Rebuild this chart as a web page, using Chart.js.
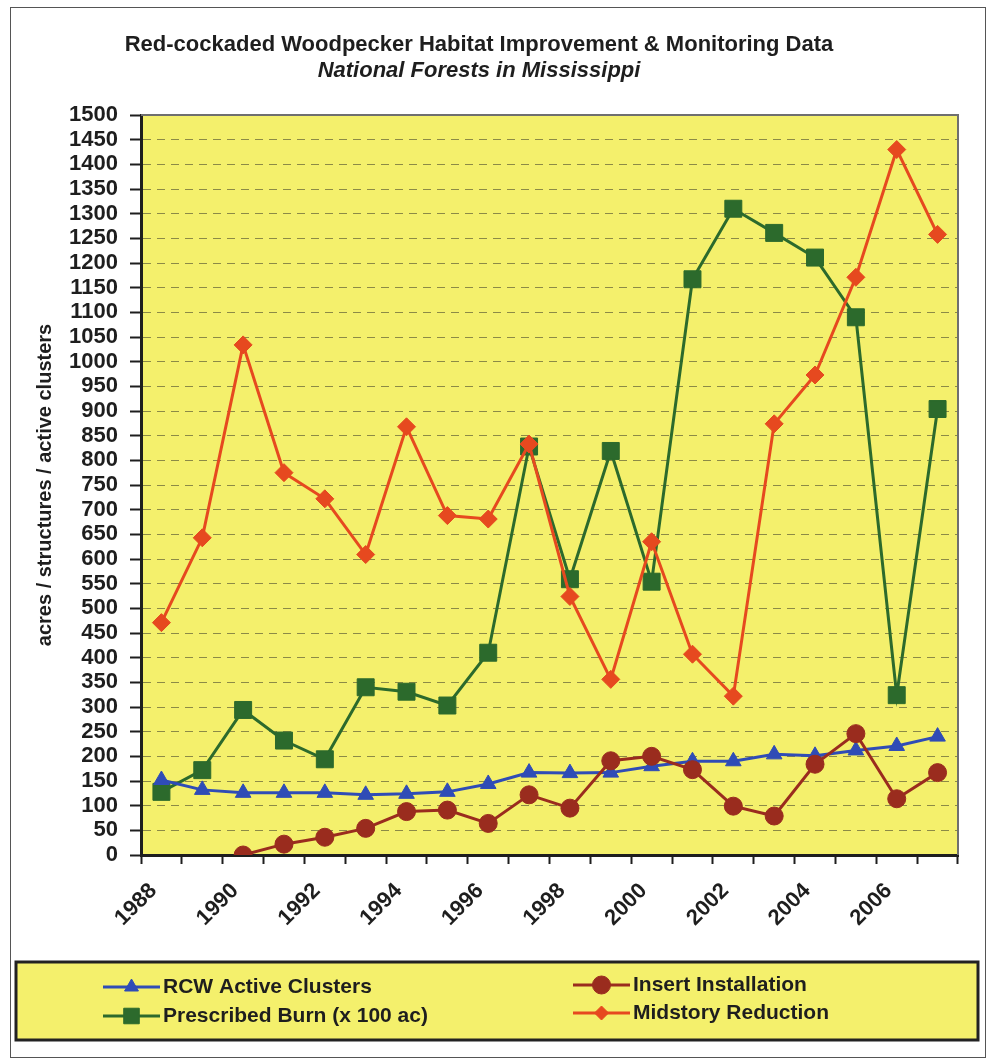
<!DOCTYPE html>
<html>
<head>
<meta charset="utf-8">
<title>Red-cockaded Woodpecker Habitat Improvement &amp; Monitoring Data</title>
<script src="https://cdn.jsdelivr.net/npm/chart.js@4.4.1/dist/chart.umd.min.js"></script>
<style>
  html, body { margin: 0; padding: 0; background: #fff; }
  #wrap { width: 988px; height: 1064px; }
</style>
</head>
<body>
<div id="wrap"><canvas id="rcw-chart" width="988" height="1064"></canvas></div>
<script>
/* ---------- Data ---------- */
const years = ['1988', '1989', '1990', '1991', '1992', '1993', '1994', '1995', '1996', '1997',
               '1998', '1999', '2000', '2001', '2002', '2003', '2004', '2005', '2006', '2007'];

const rcwActiveClusters = [152, 132, 126, 126, 126, 122, 124, 128, 144, 167,
                           166, 167, 180, 190, 190, 204, 201, 212, 221, 240];
const insertInstallation = [null, null, 0, 22, 36, 54, 88, 91, 64, 122,
                            95, 191, 200, 173, 99, 79, 184, 246, 114, 167];
const prescribedBurn = [128, 172, 294, 232, 194, 340, 331, 303, 410, 828,
                        559, 819, 554, 1167, 1310, 1261, 1211, 1090, 324, 904];
const midstoryReduction = [471, 643, 1034, 775, 722, 609, 868, 688, 681, 833,
                           524, 356, 635, 407, 322, 874, 973, 1171, 1430, 1258];

const yMin = 0;
const yMax = 1500;
const yStep = 50;

/* ---------- Style ---------- */
const FONT = "'Liberation Sans', Arial, sans-serif";
const plotYellow = '#f4f06c';
const inkColor = '#1e1e1e';

/* ---------- Plugins ---------- */
// yellow plot area + outer frame
const backgroundPlugin = {
    id: 'plotBackground',
    beforeDraw(chart) {
        const { ctx, chartArea: a } = chart;
        ctx.save();
        ctx.fillStyle = '#ffffff';
        ctx.fillRect(0, 0, chart.width, chart.height);
        ctx.strokeStyle = '#555';
        ctx.lineWidth = 1;
        ctx.strokeRect(10.5, 7.5, 975, 1050);
        ctx.fillStyle = plotYellow;
        ctx.fillRect(a.left, a.top, a.right - a.left, a.bottom - a.top);
        ctx.restore();
    },
    beforeDatasetsDraw(chart) {
        const { ctx, chartArea: a } = chart;
        ctx.save();
        ctx.strokeStyle = '#6f6f6f';
        ctx.lineWidth = 2;
        ctx.beginPath();
        ctx.moveTo(a.left, a.top);
        ctx.lineTo(a.right, a.top);
        ctx.lineTo(a.right, a.bottom);
        ctx.stroke();
        ctx.restore();
    }
};

// boxed two-column legend under the axis
const boxLegendPlugin = {
    id: 'boxLegend',
    afterDraw(chart) {
        const { ctx } = chart;
        const box = { x: 16, y: 962, w: 962, h: 78 };
        ctx.save();
        ctx.fillStyle = plotYellow;
        ctx.fillRect(box.x, box.y, box.w, box.h);
        ctx.strokeStyle = '#222';
        ctx.lineWidth = 3;
        ctx.strokeRect(box.x, box.y, box.w, box.h);

        const slots = [
            { ds: 0, x: 103, y: 987 },
            { ds: 2, x: 103, y: 1016 },
            { ds: 1, x: 573, y: 985 },
            { ds: 3, x: 573, y: 1013 }
        ];
        const markerSize = { triangle: 8, circle: 9, rect: 11, rectRot: 7 };

        slots.forEach(s => {
            const ds = chart.data.datasets[s.ds];
            ctx.strokeStyle = ds.borderColor;
            ctx.lineWidth = 3;
            ctx.beginPath();
            ctx.moveTo(s.x, s.y);
            ctx.lineTo(s.x + 57, s.y);
            ctx.stroke();

            ctx.fillStyle = ds.pointBackgroundColor;
            ctx.strokeStyle = ds.borderColor;
            ctx.lineWidth = 1;
            Chart.helpers.drawPoint(ctx, {
                pointStyle: ds.pointStyle,
                radius: markerSize[ds.pointStyle],
                rotation: 0,
                borderWidth: 1
            }, s.x + 28.5, s.y);

            ctx.fillStyle = inkColor;
            ctx.font = `bold 21px ${FONT}`;
            ctx.textAlign = 'left';
            ctx.textBaseline = 'middle';
            ctx.fillText(ds.label, s.x + 60, s.y);
        });
        ctx.restore();
    }
};

/* ---------- Chart ---------- */
function lineSet(label, data, color, style, radius, order) {
    return {
        label: label,
        data: data,
        borderColor: color,
        backgroundColor: color,
        pointBackgroundColor: color,
        pointBorderColor: color,
        pointBorderWidth: 1,
        pointStyle: style,
        pointRadius: radius,
        pointHoverRadius: radius,
        borderWidth: 3,
        tension: 0,
        order: order
    };
}

const ctx = document.getElementById('rcw-chart').getContext('2d');

new Chart(ctx, {
    type: 'line',
    data: {
        labels: years,
        datasets: [
            lineSet('RCW Active Clusters', rcwActiveClusters, '#2f4cb6', 'triangle', 9, 3),
            lineSet('Insert Installation', insertInstallation, '#9a2c1e', 'circle', 9, 2),
            lineSet('Prescribed Burn (x 100 ac)', prescribedBurn, '#2c6a2c', 'rect', 12, 4),
            lineSet('Midstory Reduction', midstoryReduction, '#e6491f', 'rectRot', 9, 1)
        ]
    },
    options: {
        responsive: false,
        animation: false,
        devicePixelRatio: 1,
        layout: { padding: { left: 0, right: 30, top: 0, bottom: 0 } },
        plugins: {
            legend: { display: false },
            tooltip: { enabled: false },
            title: {
                display: true,
                text: 'Red-cockaded Woodpecker Habitat Improvement & Monitoring Data',
                color: inkColor,
                font: { family: FONT, size: 22, weight: 'bold', lineHeight: 1 },
                padding: { top: 34, bottom: 4 }
            },
            subtitle: {
                display: true,
                text: 'National Forests in Mississippi',
                color: inkColor,
                font: { family: FONT, size: 22, weight: 'bold', style: 'italic', lineHeight: 1 },
                padding: { top: 0, bottom: 33 }
            }
        },
        scales: {
            x: {
                offset: true,
                afterFit(scale) { scale.height = 209; },
                grid: {
                    offset: true,
                    drawOnChartArea: false,
                    tickLength: 9,
                    tickColor: inkColor,
                    tickWidth: 2
                },
                border: { color: inkColor, width: 3 },
                ticks: {
                    autoSkip: false,
                    maxRotation: 45,
                    minRotation: 45,
                    padding: 14,
                    labelOffset: -8,
                    color: inkColor,
                    font: { family: FONT, size: 22, weight: 'bold' },
                    callback: function (value, index) {
                        return index % 2 === 0 ? this.getLabelForValue(value) : '';
                    }
                }
            },
            y: {
                min: yMin,
                max: yMax,
                afterFit(scale) { scale.width = 141; },
                title: {
                    display: true,
                    text: 'acres / structures / active clusters',
                    color: inkColor,
                    font: { family: FONT, size: 20, weight: 'bold' },
                    padding: { top: 33, bottom: 0 }
                },
                grid: {
                    color: 'rgba(70, 70, 45, 0.6)',
                    lineWidth: 1,
                    tickLength: 11,
                    tickColor: inkColor,
                    tickWidth: 2,
                    tickBorderDash: []
                },
                border: { color: inkColor, width: 3, dash: [8, 6] },
                ticks: {
                    stepSize: yStep,
                    autoSkip: false,
                    padding: 12,
                    color: inkColor,
                    font: { family: FONT, size: 22, weight: 'bold' },
                    callback: value => String(value)
                }
            }
        }
    },
    plugins: [backgroundPlugin, boxLegendPlugin]
});
</script>
</body>
</html>
